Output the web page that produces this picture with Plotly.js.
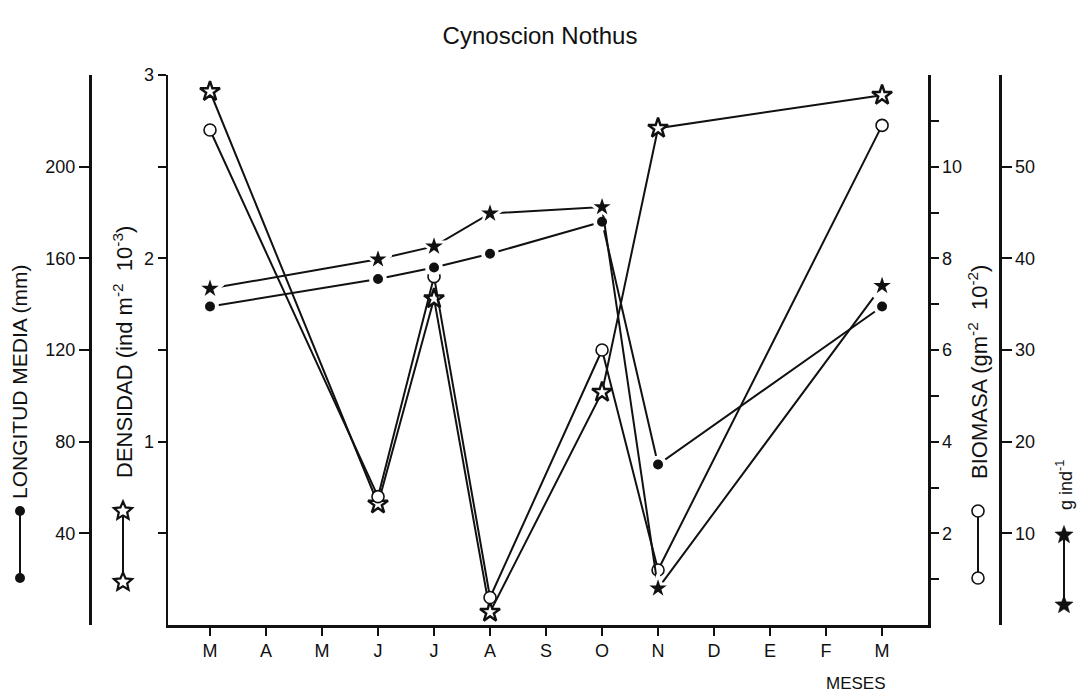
<!DOCTYPE html>
<html>
<head>
<meta charset="utf-8">
<script src="https://cdn.plot.ly/plotly-3.0.1.min.js"></script>
<style>
  html, body { margin: 0; padding: 0; background: #ffffff; }
  #chart { width: 1077px; height: 695px; }
</style>
</head>
<body>
<div id="chart"></div>
<script>
// Months of the sampling year (March to March)
const months = ['M', 'A', 'M', 'J', 'J', 'A', 'S', 'O', 'N', 'D', 'E', 'F', 'M'];
// Month index of each sampling
const sampleIdx = [0, 3, 4, 5, 7, 8, 12];
// Mean length (mm)
const longitud = [139, 151, 156, 162, 176, 70, 139];
// Density (ind m-2 10-3)
const densidad = [2.91, 0.66, 1.78, 0.07, 1.27, 2.71, 2.89];
// Biomass (g m-2 10-2)
const biomasa = [10.8, 2.8, 7.6, 0.6, 6.0, 1.2, 10.9];
// Mean weight (g ind-1)
const pesoMedio = [36.7, 39.9, 41.3, 44.9, 45.6, 4.0, 37.0];

const W = 1077, H = 695;
const M = { l: 90, r: 77, t: 75, b: 70 };
const PW = W - M.l - M.r, PH = H - M.t - M.b;
const px = p => (p - M.l) / PW;        // pixel column -> paper x
const py = p => (H - M.b - p) / PH;    // pixel row -> paper y

const FONT = 'Liberation Sans, Arial, sans-serif';
const INK = '#111111';

const lineStyle = { color: INK, width: 2 };

const traces = [
  {
    x: sampleIdx, y: densidad, xaxis: 'x', yaxis: 'y',
    mode: 'lines+markers', line: lineStyle, cliponaxis: false,
    marker: { symbol: 'star', size: 15, color: '#ffffff', line: { color: INK, width: 2.4 } },
    hoverinfo: 'skip'
  },
  {
    x: sampleIdx, y: biomasa, xaxis: 'x', yaxis: 'y2',
    mode: 'lines+markers', line: lineStyle, cliponaxis: false,
    marker: { symbol: 'circle', size: 12, color: '#ffffff', line: { color: INK, width: 1.6 } },
    hoverinfo: 'skip'
  },
  {
    x: sampleIdx, y: longitud, xaxis: 'x', yaxis: 'y3',
    mode: 'lines+markers', line: lineStyle, cliponaxis: false,
    marker: { symbol: 'circle', size: 14, color: INK, line: { color: '#ffffff', width: 4 } },
    hoverinfo: 'skip'
  },
  {
    x: sampleIdx, y: pesoMedio, xaxis: 'x', yaxis: 'y4',
    mode: 'lines+markers', line: lineStyle, cliponaxis: false,
    marker: { symbol: 'star', size: 20, color: INK, line: { color: '#ffffff', width: 3 } },
    hoverinfo: 'skip'
  }
];

const tickCommon = {
  ticks: 'outside', ticklen: 8, tickwidth: 2, tickcolor: INK,
  showline: true, linewidth: 2.5, linecolor: INK,
  showgrid: false, zeroline: false, fixedrange: true,
  tickfont: { family: FONT, size: 18, color: INK }
};
const minorCommon = { ticks: 'outside', ticklen: 8, tickwidth: 2, tickcolor: INK, showgrid: false };

const layout = {
  width: W, height: H,
  margin: M,
  paper_bgcolor: '#ffffff', plot_bgcolor: '#ffffff',
  showlegend: false,
  font: { family: FONT, color: INK },
  title: {
    text: 'Cynoscion Nothus',
    x: 540 / W, xanchor: 'center', xref: 'container',
    y: 1 - 36 / H, yanchor: 'middle', yref: 'container',
    font: { family: FONT, size: 24, color: INK }
  },
  xaxis: Object.assign({}, tickCommon, {
    domain: [px(168), px(928)],
    range: [-0.75, 12.82],
    tickmode: 'array',
    tickvals: months.map((m, i) => i),
    ticktext: months
  }),
  yaxis: Object.assign({}, tickCommon, {
    range: [0, 3], anchor: 'x', side: 'left',
    tickmode: 'array', tickvals: [1, 2, 3],
    minor: Object.assign({ tickmode: 'array', tickvals: [0.5, 1.5, 2.5] }, minorCommon)
  }),
  yaxis2: Object.assign({}, tickCommon, {
    range: [0, 12], anchor: 'x', side: 'right', overlaying: 'y',
    tickmode: 'array', tickvals: [2, 4, 6, 8, 10],
    minor: Object.assign({ tickmode: 'array', tickvals: [1, 3, 5, 7, 9, 11] }, minorCommon)
  }),
  yaxis3: Object.assign({}, tickCommon, {
    range: [0, 240], anchor: 'free', position: 0, side: 'left', overlaying: 'y',
    ticklen: 10, tickmode: 'array', tickvals: [40, 80, 120, 160, 200]
  }),
  yaxis4: Object.assign({}, tickCommon, {
    range: [0, 60], anchor: 'free', position: 1, side: 'right', overlaying: 'y',
    ticklen: 10, tickmode: 'array', tickvals: [10, 20, 30, 40, 50]
  }),
  annotations: [],
  shapes: []
};

// Axis captions, written vertically
const ann = (text, x, y, size, angle) => ({
  text, xref: 'paper', yref: 'paper', x: px(x), y: py(y),
  xanchor: 'center', yanchor: 'middle', showarrow: false,
  textangle: angle, font: { family: FONT, size, color: INK }
});

// Series keys: a short vertical stroke between two symbols
const keyLine = (x, y0, y1) => ({
  type: 'line', xref: 'paper', yref: 'paper',
  x0: px(x), x1: px(x), y0: py(y0), y1: py(y1),
  line: { color: INK, width: 2 }
});
const keyCircle = (cx, cy, r, fill, lw) => ({
  type: 'circle', xref: 'paper', yref: 'paper',
  x0: px(cx - r), x1: px(cx + r), y0: py(cy + r), y1: py(cy - r),
  fillcolor: fill, line: { color: INK, width: lw }
});
const keyStar = (cx, cy, rOut, rIn, fill, lw) => {
  const pts = [];
  for (let k = 0; k < 10; k++) {
    const a = -Math.PI / 2 + k * Math.PI / 5;
    const r = k % 2 === 0 ? rOut : rIn;
    pts.push(px(cx + r * Math.cos(a)).toFixed(5) + ',' + py(cy + r * Math.sin(a)).toFixed(5));
  }
  return {
    type: 'path', xref: 'paper', yref: 'paper',
    path: 'M' + pts.join('L') + 'Z',
    fillcolor: fill, line: { color: INK, width: lw }
  };
};

layout.annotations.push(
  ann('MESES', 856, 683, 17, 0),
  ann('LONGITUD MEDIA (mm)', 20, 382, 21, -90),
  ann('DENSIDAD (ind m<sup>-2</sup>  10<sup>-3</sup>)', 123, 352, 22, -90),
  ann('BIOMASA (gm<sup>-2</sup>  10<sup>-2</sup>)', 978, 372, 22, -90),
  ann('g ind<sup>-1</sup>', 1064, 485, 18, -90)
);
layout.shapes.push(
  keyLine(20, 511, 578), keyCircle(20, 511, 5, INK, 0), keyCircle(20, 578, 5, INK, 0),
  keyLine(123, 511, 582), keyStar(123, 511, 9.5, 4.4, '#ffffff', 2.2), keyStar(123, 582, 9.5, 4.4, '#ffffff', 2.2),
  keyLine(978, 511, 578), keyCircle(978, 511, 6, '#ffffff', 1.6), keyCircle(978, 578, 6, '#ffffff', 1.6),
  keyLine(1064, 535, 605), keyStar(1064, 535, 9.5, 4, INK, 0.5), keyStar(1064, 605, 9.5, 4, INK, 0.5)
);

Plotly.newPlot('chart', traces, layout, { staticPlot: true, displayModeBar: false });
</script>
</body>
</html>
